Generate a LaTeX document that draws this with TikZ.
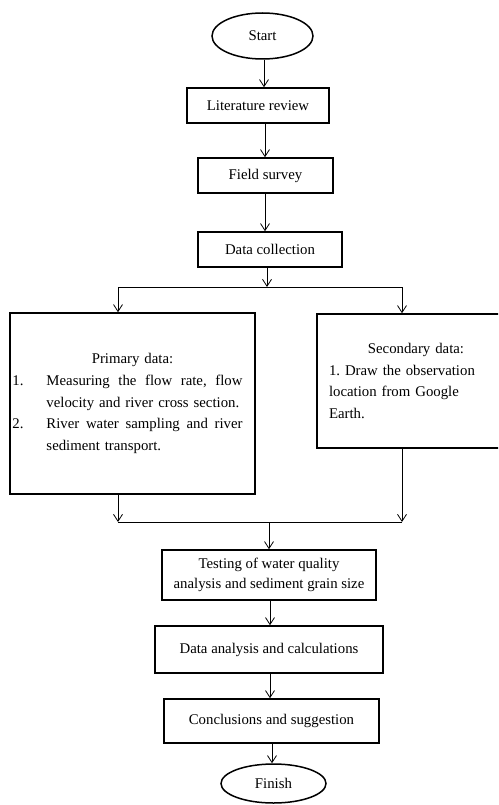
\documentclass[tikz,border=0pt]{standalone}
\usepackage{fontspec}
\setmainfont{Liberation Serif}
\usetikzlibrary{arrows.meta,shapes.geometric}
\tikzset{
  box/.style={draw, line width=1.5pt, rectangle, inner sep=0pt, align=center},
  oval/.style={draw, line width=1.5pt, ellipse, inner sep=0pt},
  arr/.style={line width=0.8pt, -{Straight Barb[length=7pt,width=9pt]}},
  ln/.style={line width=0.8pt}
}
\newcommand{\lab}[1]{\makebox[34pt][l]{#1}}
\newcommand{\fullline}[1]{\hbox to 196pt{#1}}
\begin{document}
\begin{tikzpicture}[x=1pt,y=-1pt,font=\fontsize{14.8}{21.7}\selectfont\frenchspacing]
\useasboundingbox (0,0) rectangle (498,805);
\clip (0,0) rectangle (498,805);
\node[oval, minimum width=101pt, minimum height=46pt] (start) at (262.5,36) {Start};
\node[box, minimum width=142pt, minimum height=35pt] (lit) at (258,105.5) {Literature review};
\node[box, minimum width=135pt, minimum height=35pt] (field) at (265.5,175.5) {Field survey};
\node[box, minimum width=144pt, minimum height=35pt] (coll) at (270,249.5) {Data collection};
\node[draw, line width=1.5pt, rectangle, inner sep=0pt, minimum width=245pt, minimum height=181pt, text width=240pt, align=left] (prim) at (132.5,403.5)
 {\makebox[240pt][c]{Primary data:}\\
  \lab{1.}\fullline{Measuring\hfill the\hfill flow\hfill rate,\hfill flow}\\
  \hspace*{34pt}velocity and river cross section.\\
  \lab{2.}\fullline{River\hfill water\hfill sampling\hfill and\hfill river}\\
  \hspace*{34pt}sediment transport.};
\node[draw, line width=1.5pt, rectangle, inner sep=0pt, minimum width=198pt, minimum height=134pt, text width=174pt, align=left] (sec) at (416,381)
 {\makebox[174pt][c]{Secondary data:}\\
  1. Draw the observation\\ location from Google\\ Earth.};
\node[box, minimum width=214pt, minimum height=50pt] (test) at (269,575) {Testing of water quality\\[-1pt] analysis and sediment grain size};
\node[box, minimum width=228pt, minimum height=47pt] (ana) at (269,649.5) {Data analysis and calculations};
\node[box, minimum width=215pt, minimum height=44pt] (conc) at (271.5,721) {Conclusions and suggestion};
\node[oval, minimum width=105pt, minimum height=39pt] (finish) at (273.5,783.5) {Finish};
\coordinate (split) at (267,287);
\coordinate (sl) at (118,287);
\coordinate (sr) at (402,287);
\coordinate (ml) at (118,522);
\coordinate (mr) at (402,522);
\coordinate (merge) at (269,522);
\coordinate (c1) at (264,0);
\coordinate (c2) at (265,0);
\coordinate (c5) at (270,0);
\coordinate (c6) at (272,0);
\draw[arr] (c1 |- start.south) -- (c1 |- lit.north);
\draw[arr] (c2 |- lit.south) -- (c2 |- field.north);
\draw[arr] (c2 |- field.south) -- (c2 |- coll.north);
\draw[arr] (split |- coll.south) -- (split);
\draw[ln] (sl) -- (sr);
\draw[arr] (sl) -- (sl |- prim.north);
\draw[arr] (sr) -- (sr |- sec.north);
\draw[arr] (ml |- prim.south) -- (ml);
\draw[arr] (mr |- sec.south) -- (mr);
\draw[ln] (ml) -- (mr);
\draw[arr] (merge) -- (merge |- test.north);
\draw[arr] (c5 |- test.south) -- (c5 |- ana.north);
\draw[arr] (c5 |- ana.south) -- (c5 |- conc.north);
\draw[arr] (c6 |- conc.south) -- (c6 |- finish.north);
\end{tikzpicture}
\end{document}
